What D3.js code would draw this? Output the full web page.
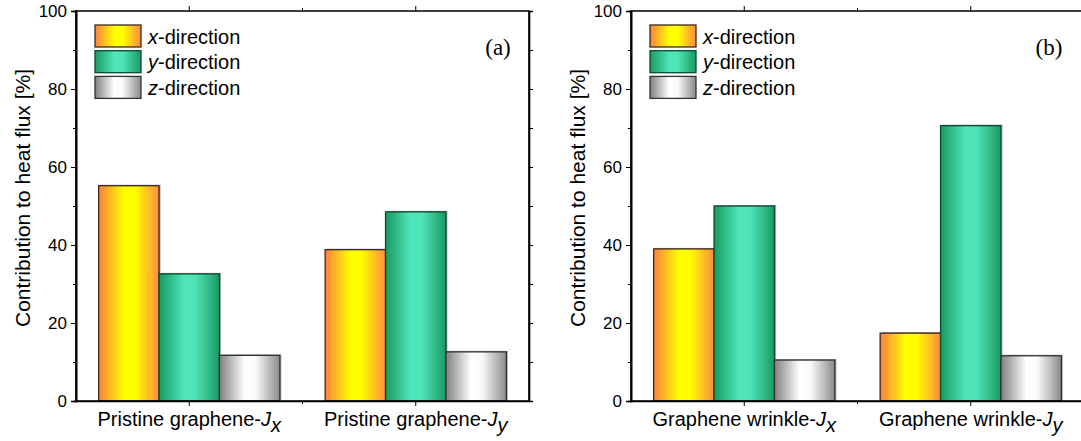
<!DOCTYPE html>
<html>
<head>
<meta charset="utf-8">
<script src="https://cdn.jsdelivr.net/npm/d3@7"></script>
<style>
	body { margin: 0; background: #fff; }
	text { font-family: 'Liberation Sans', Arial, sans-serif; fill: #000; }
</style>
</head>
<body>
<div id="chart"></div>
<script>

// values, % of heat flux
const directions = ['x', 'y', 'z'];
const yTicks = [0, 20, 40, 60, 80, 100];

const namesA = ['Pristine graphene', 'Pristine graphene'];
const fluxA = ['x', 'y'];
const xDirA = [55.2, 38.8];
const yDirA = [32.6, 48.5];
const zDirA = [11.7, 12.6];

const namesB = ['Graphene wrinkle', 'Graphene wrinkle'];
const fluxB = ['x', 'y'];
const xDirB = [39.0, 17.4];
const yDirB = [50.0, 70.6];
const zDirB = [10.5, 11.6];

class BarPanel {

	constructor(options) {
		this.svg = options.svg;
		this.names = options.names;
		this.flux = options.flux;
		this.series = options.series;
		this.left = options.left;
		this.right = options.right;
		this.top = 11;
		this.bottom = 401;
		this.tag = options.tag;
		this.tagX = options.tagX;
		this.titleX = options.titleX;
		this.draw();
	}

}

BarPanel.prototype.draw = function() {
	this.g = this.svg.append('g');
	this.createScales();
	this.createBars();
	this.createAxes();
	this.createLegend();
}

BarPanel.prototype.createScales = function() {
	this.xScale = d3.scaleBand()
		.domain(d3.range(this.names.length))
		.range([this.left, this.right])
		.paddingInner(0.2)
		.paddingOuter(0.1);

	this.subScale = d3.scaleBand()
		.domain(directions)
		.range([0, this.xScale.bandwidth()]);

	this.yScale = d3.scaleLinear()
		.domain([0, 100])
		.range([this.bottom, this.top]);
}

BarPanel.prototype.createBars = function() {
	let that = this;

	let rows = [];
	this.names.forEach(function(n, i) {
		directions.forEach(function(d, k) {
			rows.push({ cat: i, dir: d, value: that.series[k][i] });
		});
	});

	let bars = this.g.selectAll('.bar')
		.data(rows)
		.enter().append('g')
			.attr('class', 'bar');

	// faint shadow on the right like the original export
	bars.append('rect')
		.attr('x', function(d) { return that.xScale(d.cat) + that.subScale(d.dir) + 1.5; })
		.attr('y', function(d) { return that.yScale(d.value) - 1; })
		.attr('width', this.subScale.bandwidth())
		.attr('height', function(d) { return that.bottom - that.yScale(d.value); })
		.attr('fill', '#aaa');

	bars.append('rect')
		.attr('x', function(d) { return that.xScale(d.cat) + that.subScale(d.dir); })
		.attr('y', function(d) { return that.yScale(d.value); })
		.attr('width', this.subScale.bandwidth())
		.attr('height', function(d) { return that.bottom - that.yScale(d.value); })
		.attr('fill', function(d) { return 'url(#grad-' + d.dir + ')'; })
		.attr('stroke', function(d) { return strokes[d.dir]; })
		.attr('stroke-width', 1.3);
}

BarPanel.prototype.createAxes = function() {
	let that = this;

	let yAxis = d3.axisLeft(this.yScale)
		.tickValues(yTicks)
		.tickSize(5)
		.tickPadding(4)
		.tickFormat(d3.format('d'));

	let yl = this.g.append('g')
		.attr('transform', `translate(${this.left}, 0)`)
		.call(yAxis);
	yl.selectAll('text').style('font-size', '17px');

	let minor = d3.range(10, 100, 20);
	this.g.append('g')
		.attr('transform', `translate(${this.left}, 0)`)
		.call(d3.axisLeft(this.yScale).tickValues(minor).tickSize(3).tickFormat(''));

	this.g.append('g')
		.attr('transform', `translate(${this.right}, 0)`)
		.call(d3.axisRight(this.yScale).tickValues(yTicks.concat(minor)).tickSize(4).tickFormat(''));

	let centers = d3.range(this.names.length).map(function(i) {
		return that.xScale(i) + that.xScale.bandwidth() / 2;
	});
	let mids = [(centers[0] + centers[1]) / 2];

	this.g.append('g')
		.attr('transform', `translate(0, ${this.bottom})`)
		.call(d3.axisBottom(this.xScale).tickValues([]).tickSizeOuter(0));

	[this.bottom, this.top].forEach(function(y, j) {
		let dir = j == 0 ? 1 : -1;
		that.g.selectAll(null)
			.data(centers.concat(mids))
			.enter().append('line')
				.attr('x1', function(d) { return d; })
				.attr('x2', function(d) { return d; })
				.attr('y1', y)
				.attr('y2', function(d, i) { return y + dir * (i < centers.length ? 5 : 3); })
				.attr('stroke', '#000')
				.attr('stroke-width', 1);
	});

	// frame
	this.g.append('path')
		.attr('d', `M${this.left},${this.bottom}V${this.top}H${this.right}V${this.bottom}Z`)
		.attr('fill', 'none')
		.attr('stroke', '#000')
		.attr('stroke-width', 1.6);

	this.g.selectAll('.domain').attr('stroke-width', 1.6);

	let labels = this.g.selectAll('.cat-label')
		.data(this.names)
		.enter().append('text')
			.attr('class', 'cat-label')
			.attr('x', function(d, i) { return centers[i]; })
			.attr('y', 426)
			.attr('text-anchor', 'middle')
			.style('font-size', '20px');
	labels.append('tspan').text(function(d) { return d + '-'; });
	labels.append('tspan').style('font-style', 'italic').text('J');
	labels.append('tspan')
		.style('font-style', 'italic')
		.attr('dy', 6)
		.text(function(d, i) { return that.flux[i]; });

	this.svg.append('text')
		.attr('transform', `translate(${this.titleX}, ${(this.top + this.bottom) / 2 - 8}) rotate(-90)`)
		.attr('text-anchor', 'middle')
		.style('font-size', '21px')
		.text('Contribution to heat flux [%]');

	this.svg.append('text')
		.attr('x', this.tagX)
		.attr('y', 55)
		.attr('text-anchor', 'middle')
		.style('font-family', "'Liberation Serif', 'Times New Roman', serif")
		.style('font-size', '23px')
		.text(this.tag);
}

BarPanel.prototype.createLegend = function() {
	let that = this;
	let x0 = this.left + 19;

	let items = this.g.selectAll('.legend')
		.data(directions)
		.enter().append('g')
			.attr('class', 'legend')
			.attr('transform', function(d, i) { return `translate(${x0}, ${25 + i * 25.7})`; });

	items.append('rect')
		.attr('width', 46)
		.attr('height', 22)
		.attr('fill', function(d) { return 'url(#grad-' + d + ')'; })
		.attr('stroke', function(d) { return strokes[d]; })
		.attr('stroke-width', 1.3);

	let t = items.append('text')
		.attr('x', 53)
		.attr('y', 18.5)
		.style('font-size', '20px');
	t.append('tspan').style('font-style', 'italic').text(function(d) { return d; });
	t.append('tspan').text('-direction');
}

const strokes = { x: '#3a2a1a', y: '#0b4a2c', z: '#333' };
const gradients = {
	x: ['#ff8040', '#ffff00', '#ffff00', '#ff8c40'],
	y: ['#199a62', '#4fe6b9', '#4fe3b6', '#1a9a62'],
	z: ['#808080', '#ffffff', '#fafafa', '#8a8a8a']
};

const svg = d3.select('#chart').append('svg')
	.attr('width', 1081)
	.attr('height', 441);

const defs = svg.append('defs');
Object.keys(gradients).forEach(function(k) {
	let lg = defs.append('linearGradient')
		.attr('id', 'grad-' + k)
		.attr('x1', '0%').attr('x2', '100%')
		.attr('y1', '0%').attr('y2', '0%');
	[0, 0.42, 0.6, 1].forEach(function(o, i) {
		lg.append('stop').attr('offset', o).attr('stop-color', gradients[k][i]);
	});
});

const panelA = new BarPanel({
	svg: svg, names: namesA, flux: fluxA,
	series: [xDirA, yDirA, zDirA],
	left: 76, right: 529, tag: '(a)', tagX: 498, titleX: 30
});

const panelB = new BarPanel({
	svg: svg, names: namesB, flux: fluxB,
	series: [xDirB, yDirB, zDirB],
	left: 631, right: 1084, tag: '(b)', tagX: 1049, titleX: 585
});

</script>
</body>
</html>
